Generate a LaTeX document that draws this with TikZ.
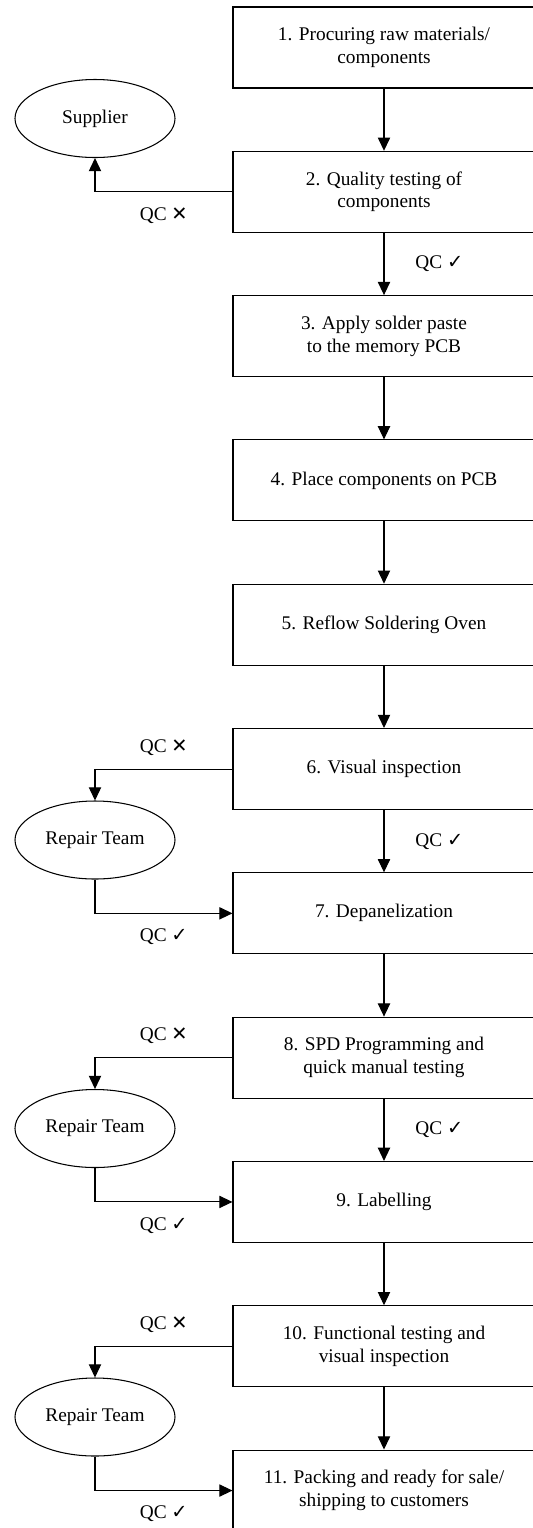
\documentclass[tikz,border=0pt]{standalone}
\usepackage{fontspec}
\setmainfont{Liberation Serif}
\newfontfamily\marksfont{DejaVu Sans}
\usetikzlibrary{positioning,shapes.geometric,arrows.meta}
\newcommand{\qcpass}{QC {\marksfont ✓}}
\newcommand{\qcfail}{QC {\marksfont ✕}}

\begin{document}
\begin{tikzpicture}[
        stepbox/.style={draw, line width=0.6pt, minimum width=6.04cm, minimum height=1.62cm, align=center},
        oval/.style={ellipse, draw, line width=0.6pt, minimum width=3.2cm, minimum height=1.56cm, inner sep=0pt},
        flow/.style={-{Triangle[width=7pt,length=7.5pt]}, line width=0.6pt},
        font=\fontsize{11}{13}\selectfont,
        node distance=1.245cm
    ]
        \useasboundingbox (0,0) rectangle (10.66,-30.56);

        % Process steps
        \node[stepbox] (step1) at (7.68,-0.95) {1. Procuring raw materials/\\components};
        \node[stepbox, below=of step1] (step2) {2. Quality testing of\\components};
        \node[stepbox, below=of step2] (step3) {3. Apply solder paste\\to the memory PCB};
        \node[stepbox, below=of step3] (step4) {4. Place components on PCB};
        \node[stepbox, below=of step4] (step5) {5. Reflow Soldering Oven};
        \node[stepbox, below=of step5] (step6) {6. Visual inspection};
        \node[stepbox, below=of step6] (step7) {7. Depanelization};
        \node[stepbox, below=of step7] (step8) {8. SPD Programming and\\quick manual testing};
        \node[stepbox, below=of step8] (step9) {9. Labelling};
        \node[stepbox, below=of step9] (step10) {10. Functional testing and\\visual inspection};
        \node[stepbox, below=of step10] (step11) {11. Packing and ready for sale/\\shipping to customers};

        % Supplier and repair loops
        \node[oval] (supplier) at (1.9,-2.37) {Supplier};
        \node[oval] (repair1) at (1.9,-16.8) {Repair Team};
        \node[oval] (repair2) at (1.9,-22.57) {Repair Team};
        \node[oval] (repair3) at (1.9,-28.34) {Repair Team};

        % Main flow
        \draw[flow] (step1) -- (step2);
        \draw[flow] (step2) -- node[right=0.5cm] {\qcpass} (step3);
        \draw[flow] (step3) -- (step4);
        \draw[flow] (step4) -- (step5);
        \draw[flow] (step5) -- (step6);
        \draw[flow] (step6) -- node[right=0.5cm] {\qcpass} (step7);
        \draw[flow] (step7) -- (step8);
        \draw[flow] (step8) -- node[right=0.5cm] {\qcpass} (step9);
        \draw[flow] (step9) -- (step10);
        \draw[flow] (step10) -- (step11);

        % Rejected parts
        \draw[flow] (step2.west) -| node[pos=0.25, below=0.2cm] {\qcfail} (supplier.south);
        \draw[flow] (step6.west) -| node[pos=0.25, above=0.15cm] {\qcfail} (repair1.north);
        \draw[flow] (repair1.south) |- node[pos=0.75, below=0.18cm] {\qcpass} (step7.west);
        \draw[flow] (step8.west) -| node[pos=0.25, above=0.15cm] {\qcfail} (repair2.north);
        \draw[flow] (repair2.south) |- node[pos=0.75, below=0.18cm] {\qcpass} (step9.west);
        \draw[flow] (step10.west) -| node[pos=0.25, above=0.15cm] {\qcfail} (repair3.north);
        \draw[flow] (repair3.south) |- node[pos=0.75, below=0.18cm] {\qcpass} (step11.west);

    \end{tikzpicture}
\end{document}
